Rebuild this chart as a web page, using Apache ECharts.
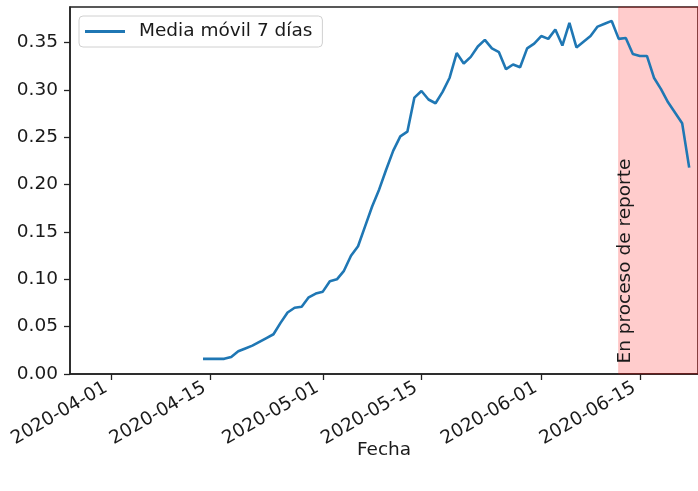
<!DOCTYPE html>
<html>
<head>
<meta charset="utf-8">
<script src="https://cdn.jsdelivr.net/npm/echarts@6/dist/echarts.min.js"></script>
<style>
    html, body { margin: 0; padding: 0; background: #fff; }
    #chart { width: 698px; height: 491px; }
</style>
</head>
<body>
<div id="chart"></div>
<script>
// Media móvil de 7 días

const fechas = [
    '2020-04-14', '2020-04-15', '2020-04-16', '2020-04-17', '2020-04-18', '2020-04-19', '2020-04-20',
    '2020-04-21', '2020-04-22', '2020-04-23', '2020-04-24', '2020-04-25', '2020-04-26', '2020-04-27',
    '2020-04-28', '2020-04-29', '2020-04-30', '2020-05-01', '2020-05-02', '2020-05-03', '2020-05-04',
    '2020-05-05', '2020-05-06', '2020-05-07', '2020-05-08', '2020-05-09', '2020-05-10', '2020-05-11',
    '2020-05-12', '2020-05-13', '2020-05-14', '2020-05-15', '2020-05-16', '2020-05-17', '2020-05-18',
    '2020-05-19', '2020-05-20', '2020-05-21', '2020-05-22', '2020-05-23', '2020-05-24', '2020-05-25',
    '2020-05-26', '2020-05-27', '2020-05-28', '2020-05-29', '2020-05-30', '2020-05-31', '2020-06-01',
    '2020-06-02', '2020-06-03', '2020-06-04', '2020-06-05', '2020-06-06', '2020-06-07', '2020-06-08',
    '2020-06-09', '2020-06-10', '2020-06-11', '2020-06-12', '2020-06-13', '2020-06-14', '2020-06-15',
    '2020-06-16', '2020-06-17', '2020-06-18', '2020-06-19', '2020-06-20', '2020-06-21', '2020-06-22'
];

const mediaMovil = [
    0.016, 0.016, 0.016, 0.016, 0.018, 0.024, 0.027,
    0.030, 0.034, 0.038, 0.042, 0.054, 0.065, 0.070,
    0.071, 0.081, 0.085, 0.087, 0.098, 0.100, 0.109,
    0.125, 0.135, 0.156, 0.177, 0.195, 0.216, 0.236,
    0.251, 0.256, 0.292, 0.299, 0.290, 0.286, 0.298,
    0.313, 0.339, 0.328, 0.335, 0.346, 0.353, 0.344,
    0.340, 0.322, 0.327, 0.324, 0.344, 0.349, 0.357,
    0.354, 0.364, 0.347, 0.371, 0.345, 0.351, 0.357,
    0.367, 0.370, 0.373, 0.354, 0.355, 0.338, 0.336,
    0.336, 0.313, 0.301, 0.287, 0.276, 0.265, 0.218
];

const ticksX = ['2020-04-01', '2020-04-15', '2020-05-01', '2020-05-15', '2020-06-01', '2020-06-15'];
const ticksY = [0, 0.05, 0.10, 0.15, 0.20, 0.25, 0.30, 0.35];

const inicioReporte = '2020-06-12';
const textoReporte = 'En proceso de reporte';
const nombreSerie = 'Media móvil 7 días';

const DAY = 86400000;
const FONT = "'DejaVu Sans', sans-serif";
const TEXT_COLOR = '#1a1a1a';

// fecha 'YYYY-MM-DD' -> timestamp local
function toTs(s) {
    const p = s.split('-').map(Number);
    return new Date(p[0], p[1] - 1, p[2]).getTime();
}

function pad(n) {
    return String(n).padStart(2, '0');
}

const xMin = toTs('2020-04-01') - 5.88 * DAY;
const xMax = toTs('2020-04-01') + 83.25 * DAY;

const chart = echarts.init(document.getElementById('chart'));

const option = {
    animation: false,
    textStyle: { fontFamily: FONT },
    grid: {
        left: 70,
        right: -1,
        top: 7,
        bottom: 117,
        show: true,
        borderColor: '#222',
        borderWidth: 1.5,
        backgroundColor: 'transparent'
    },
    legend: {
        left: 79,
        top: 16,
        orient: 'horizontal',
        icon: 'rect',
        itemWidth: 40,
        itemHeight: 3,
        padding: [6, 10, 6, 6],
        backgroundColor: 'rgba(255,255,255,0.8)',
        borderColor: '#d0d0d0',
        borderWidth: 1,
        borderRadius: 4,
        formatter: '{a|{name}}',
        textStyle: {
            fontFamily: FONT,
            fontSize: 18.5,
            color: TEXT_COLOR,
            rich: {
                a: {
                    fontFamily: FONT,
                    fontSize: 18.5,
                    lineHeight: 22,
                    color: TEXT_COLOR,
                    padding: [0, 0, 0, 9]
                }
            }
        },
        data: [nombreSerie]
    },
    xAxis: {
        type: 'value',
        min: xMin,
        max: xMax,
        name: 'Fecha',
        nameLocation: 'middle',
        nameGap: 67,
        nameMoveOverlap: false,
        nameTextStyle: { fontFamily: FONT, fontSize: 18.5, color: TEXT_COLOR },
        axisLine: { show: true, lineStyle: { color: '#222', width: 1.5 } },
        axisTick: {
            show: true,
            length: 6,
            lineStyle: { color: '#222', width: 1.3 },
            customValues: ticksX.map(toTs)
        },
        axisLabel: {
            rotate: 30,
            margin: 22,
            verticalAlign: 'bottom',
            fontFamily: FONT,
            fontSize: 18.5,
            lineHeight: 22,
            color: TEXT_COLOR,
            customValues: ticksX.map(toTs),
            formatter: function(v) {
                const d = new Date(v);
                return d.getFullYear() + '-' + pad(d.getMonth() + 1) + '-' + pad(d.getDate());
            }
        },
        splitLine: { show: false }
    },
    yAxis: {
        type: 'value',
        min: 0,
        max: 0.3877,
        axisLine: { show: true, lineStyle: { color: '#222', width: 1.5 } },
        axisTick: {
            show: true,
            length: 6,
            lineStyle: { color: '#222', width: 1.3 },
            customValues: ticksY
        },
        axisLabel: {
            margin: 12,
            fontFamily: FONT,
            fontSize: 18.5,
            color: TEXT_COLOR,
            customValues: ticksY,
            formatter: function(v) { return v.toFixed(2); }
        },
        splitLine: { show: false }
    },
    series: [{
        name: nombreSerie,
        type: 'line',
        symbol: 'none',
        showSymbol: false,
        data: fechas.map((f, i) => [toTs(f), mediaMovil[i]]),
        lineStyle: { color: '#1f77b4', width: 2.6 },
        itemStyle: { color: '#1f77b4' },
        z: 3,
        markArea: {
            silent: true,
            itemStyle: {
                color: 'rgba(255,0,0,0.2)',
                borderColor: 'rgba(255,0,0,0.2)',
                borderWidth: 1
            },
            data: [[{ xAxis: toTs(inicioReporte) }, { xAxis: xMax + 2 * DAY }]]
        }
    }]
};

chart.setOption(option);

// texto vertical sobre la zona de reporte
const p = chart.convertToPixel({ gridIndex: 0 }, [toTs(inicioReporte), 0]);
chart.setOption({
    graphic: [{
        type: 'text',
        x: p[0] + 6.5,
        y: p[1] - 10.5,
        rotation: Math.PI / 2,
        silent: true,
        z: 10,
        style: {
            text: textoReporte,
            font: "18.5px 'DejaVu Sans', sans-serif",
            fill: TEXT_COLOR,
            align: 'left',
            verticalAlign: 'middle'
        }
    }]
});
</script>
</body>
</html>
